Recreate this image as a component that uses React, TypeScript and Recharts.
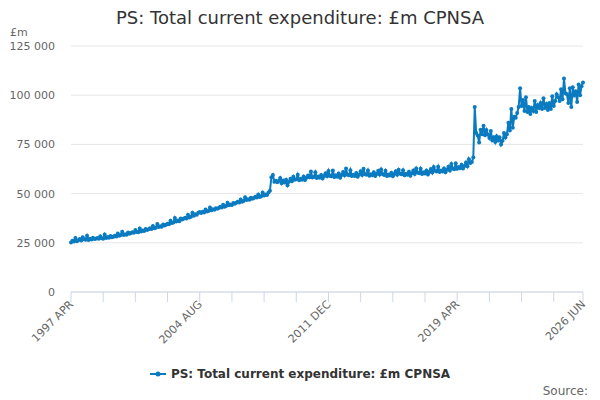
import React from "react";
import { LineChart, Line, XAxis, YAxis, CartesianGrid, Legend } from "recharts";

const MONTHS = ["JAN", "FEB", "MAR", "APR", "MAY", "JUN", "JUL", "AUG", "SEP", "OCT", "NOV", "DEC"];

// £m, monthly values per calendar year
const y1997 = [25200, 26100, 25600, 27400, 25800, 26300, 26900, 26200, 27800]; // Apr-Dec
const y1998 = [26800, 26500, 28600, 26400, 27000, 26700, 27600, 26900, 27100, 27400, 27000, 28300];
const y1999 = [27300, 27100, 29200, 27500, 27900, 27600, 28400, 27800, 28100, 28600, 28200, 29700];
const y2000 = [28600, 28900, 30600, 29000, 29400, 29100, 30200, 29600, 30000, 30400, 30100, 31500];
const y2001 = [30500, 30300, 32300, 30800, 31200, 31000, 32000, 31500, 31900, 32400, 32000, 33600];
const y2002 = [32400, 32700, 34500, 33000, 33400, 33200, 34300, 33800, 34200, 34700, 34400, 36200];
const y2003 = [35000, 35300, 37600, 35800, 36300, 36000, 37300, 36800, 37200, 37700, 37400, 39200];
const y2004 = [37800, 38200, 40300, 38800, 39500, 39200, 40300, 40600, 40100, 40800, 40400, 41900];
const y2005 = [40900, 41200, 42900, 41500, 42000, 41800, 42600, 42300, 42700, 43300, 42900, 44300];
const y2006 = [43300, 43700, 45400, 44100, 44500, 44200, 45200, 44800, 45300, 45900, 45500, 47000];
const y2007 = [45900, 46300, 48100, 46700, 47100, 46900, 47900, 47400, 47800, 48400, 48000, 49600];
const y2008 = [48300, 48700, 50500, 49000, 49600, 49300, 50600, 51500, 58300, 59400, 56000, 56500];
const y2009 = [55800, 56400, 57900, 55200, 56600, 55700, 57000, 54300, 56000, 57500, 56300, 58600];
const y2010 = [57000, 57300, 59600, 56800, 57600, 57100, 58700, 56900, 58100, 59200, 58300, 61200];
const y2011 = [58200, 58400, 60800, 57900, 58700, 58100, 59500, 57700, 58900, 60300, 58800, 61500];
const y2012 = [59000, 58800, 61700, 58400, 59300, 58600, 60200, 58100, 59400, 61000, 59300, 62800];
const y2013 = [59600, 59300, 61900, 58900, 59600, 59000, 60500, 58600, 59700, 61400, 59500, 62600];
const y2014 = [59800, 59600, 61800, 59100, 59800, 59300, 60800, 58900, 60000, 61600, 59700, 62300];
const y2015 = [59900, 59400, 61600, 59000, 59700, 59200, 60600, 58800, 59900, 61400, 59600, 62100];
const y2016 = [60100, 59800, 61900, 59300, 60100, 59600, 61100, 59100, 60300, 61800, 60000, 62700];
const y2017 = [60700, 60300, 62600, 60000, 60800, 60200, 61700, 59700, 61000, 62500, 60700, 63500];
const y2018 = [61600, 61200, 63700, 61000, 61800, 61200, 62800, 60800, 62100, 63700, 61800, 65000];
const y2019 = [62800, 62400, 65400, 62600, 63500, 62900, 64600, 62800, 64000, 65800, 63900, 67500];
const y2020 = [65600, 66000, 68300, 94000, 80800, 79500, 76000, 82500, 80200, 84500, 79700, 82300];
const y2021 = [80000, 78300, 81800, 77100, 78600, 76200, 79100, 77000, 78500, 75000, 76800, 80800];
const y2022 = [78500, 80200, 86000, 82000, 93000, 83500, 89000, 88500, 91000, 94000, 103500, 94500];
const y2023 = [97500, 92000, 99000, 91500, 94000, 90500, 93500, 92000, 97000, 91500, 95000, 93500];
const y2024 = [96000, 93000, 98500, 93500, 95500, 92500, 96000, 93000, 99500, 94500, 97000, 100500];
const y2025 = [99000, 97000, 103000, 98000, 108500, 101000, 100500, 96000, 103500, 94000, 104000, 100000];
const y2026 = [102000, 96500, 105500, 100000, 104500, 106500]; // Jan-Jun

const yearBlocks: [number, number, number[]][] = [
  [1997, 3, y1997], [1998, 0, y1998], [1999, 0, y1999], [2000, 0, y2000], [2001, 0, y2001],
  [2002, 0, y2002], [2003, 0, y2003], [2004, 0, y2004], [2005, 0, y2005], [2006, 0, y2006],
  [2007, 0, y2007], [2008, 0, y2008], [2009, 0, y2009], [2010, 0, y2010], [2011, 0, y2011],
  [2012, 0, y2012], [2013, 0, y2013], [2014, 0, y2014], [2015, 0, y2015], [2016, 0, y2016],
  [2017, 0, y2017], [2018, 0, y2018], [2019, 0, y2019], [2020, 0, y2020], [2021, 0, y2021],
  [2022, 0, y2022], [2023, 0, y2023], [2024, 0, y2024], [2025, 0, y2025], [2026, 0, y2026],
];

const xLabelTicks = ["1997 APR", "2004 AUG", "2011 DEC", "2019 APR", "2026 JUN"];
const yTicks = [0, 25000, 50000, 75000, 100000, 125000];

const SERIES_NAME = "PS: Total current expenditure: £m CPNSA";
const COLOR = "#0b7bc1";
const FONT = "'DejaVu Sans', Verdana, sans-serif";

const rows: { i: number; label: string; value: number }[] = [];
yearBlocks.forEach(([year, start, vals]) => {
  vals.forEach((v, k) => {
    rows.push({ i: rows.length, label: `${year} ${MONTHS[start + k]}`, value: v });
  });
});
const lastIndex = rows.length - 1;
const tickIdx = rows.filter((r) => r.i % 22 === 0 || r.i === lastIndex).map((r) => r.i);

const fmtY = (v: number) => String(v).replace(/\B(?=(\d{3})+(?!\d))/g, " ");

const XTick = (props: any) => {
  const { x, y, payload } = props;
  const label = rows[payload.value]?.label;
  if (!label || !xLabelTicks.includes(label)) return null;
  const ax = x + 3;
  const ay = y + 1;
  return (
    <text
      x={ax}
      y={ay}
      transform={`rotate(-45, ${ax}, ${ay})`}
      textAnchor="end"
      fontSize={11}
      fill="#666666"
      fontFamily={FONT}
    >
      {label}
    </text>
  );
};

const YTick = (props: any) => {
  const { x, y, payload } = props;
  return (
    <text x={x} y={y + 4} textAnchor="end" fontSize={11} fill="#666666" fontFamily={FONT}>
      {fmtY(payload.value)}
    </text>
  );
};

const LegendContent = () => (
  <div
    style={{
      display: "flex",
      justifyContent: "center",
      alignItems: "center",
      fontFamily: FONT,
      fontSize: 12,
      fontWeight: "bold",
      color: "#333333",
      height: 14,
    }}
  >
    <svg width={16} height={12} style={{ marginRight: 5 }}>
      <line x1={0} y1={6} x2={16} y2={6} stroke={COLOR} strokeWidth={2} />
      <circle cx={8} cy={6} r={2.5} fill={COLOR} />
    </svg>
    <span>{SERIES_NAME}</span>
  </div>
);

export default function App() {
  return (
    <div style={{ position: "absolute", left: 0, top: 0, width: 600, height: 400, background: "#fff" }}>
      <svg
        width={600}
        height={400}
        style={{ position: "absolute", left: 0, top: 0, pointerEvents: "none", zIndex: 2 }}
      >
        <text x={300} y={24} textAnchor="middle" fontSize={18} fill="#333333" fontFamily={FONT}>
          {SERIES_NAME}
        </text>
        <text x={10} y={36} fontSize={11} fill="#666666" fontFamily={FONT}>
          £m
        </text>
        <text x={588} y={395} textAnchor="end" fontSize={12} fill="#666666" fontFamily={FONT}>
          Source:
        </text>
      </svg>
      <LineChart
        width={600}
        height={400}
        data={rows}
        margin={{ top: 46, right: 17, bottom: 14, left: 0 }}
      >
        <CartesianGrid vertical={false} stroke="#e6e6e6" />
        <XAxis
          type="number"
          dataKey="i"
          domain={[0, lastIndex]}
          ticks={tickIdx}
          interval={0}
          tick={<XTick />}
          tickSize={10}
          tickMargin={2}
          axisLine={{ stroke: "#ccd6eb" }}
          tickLine={{ stroke: "#ccd6eb" }}
          height={80}
        />
        <YAxis
          type="number"
          domain={[0, 125000]}
          ticks={yTicks}
          width={71}
          axisLine={false}
          tickLine={false}
          tickSize={0}
          tickMargin={16}
          tick={<YTick />}
        />
        <Legend
          content={<LegendContent />}
          wrapperStyle={{ position: "absolute", left: 0, top: 367, width: 600, height: 14 }}
        />
        <Line
          type="linear"
          dataKey="value"
          name={SERIES_NAME}
          stroke={COLOR}
          strokeWidth={2}
          dot={{ r: 2, fill: COLOR, stroke: COLOR, strokeWidth: 0 }}
          isAnimationActive={false}
        />
      </LineChart>
    </div>
  );
}
